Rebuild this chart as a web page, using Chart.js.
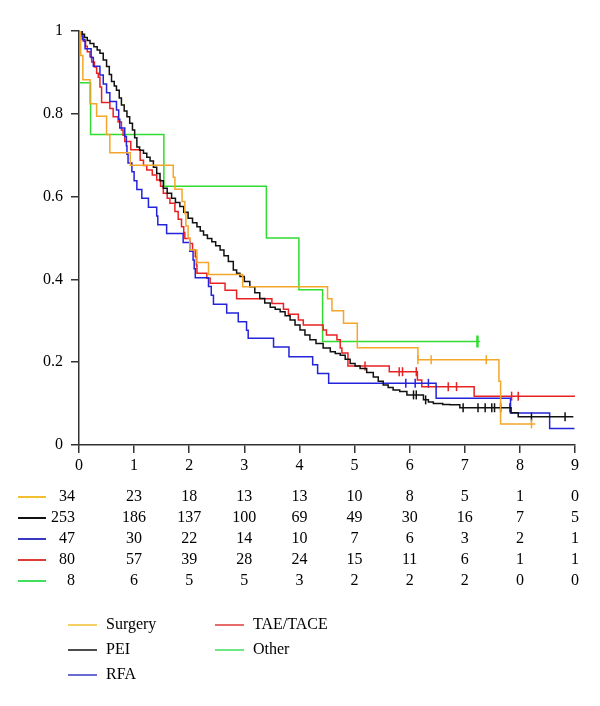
<!DOCTYPE html>
<html>
<head>
<meta charset="utf-8">
<script src="https://cdn.jsdelivr.net/npm/chart.js@4.4.1/dist/chart.umd.min.js"></script>
<style>
  html, body { margin: 0; padding: 0; background: #fff; }
  #wrap { position: relative; width: 600px; height: 706px; }
</style>
</head>
<body>
<div id="wrap"><canvas id="km"></canvas></div>
<script>
// Kaplan-Meier curves as [years, survival] step points
var groups = ["Surgery", "PEI", "RFA", "TAE/TACE", "Other"];
var years = [0, 1, 2, 3, 4, 5, 6, 7, 8, 9];

var surgery = [[0,1],[0.03,0.941],[0.07,0.882],[0.20,0.824],[0.32,0.794],[0.50,0.750],[0.56,0.706],[0.93,0.676],
  [1.71,0.647],[1.74,0.618],[1.87,0.588],[1.92,0.559],[1.94,0.529],[1.98,0.500],[2.01,0.471],[2.14,0.441],
  [2.35,0.412],[2.97,0.382],[4.51,0.353],[4.59,0.324],[4.80,0.294],[5.05,0.235],[6.15,0.206],[7.62,0.154],
  [7.65,0.051],[8.28,0.051]];

var pei = [[0,1],[0.05,0.992],[0.10,0.984],[0.15,0.977],[0.20,0.970],[0.27,0.962],[0.33,0.954],[0.38,0.946],
  [0.44,0.930],[0.50,0.914],[0.55,0.895],[0.59,0.878],[0.64,0.867],[0.68,0.857],[0.73,0.838],[0.77,0.821],
  [0.82,0.807],[0.87,0.793],[0.92,0.777],[0.97,0.761],[1.01,0.742],[1.05,0.720],[1.10,0.712],[1.17,0.705],
  [1.23,0.695],[1.29,0.686],[1.35,0.671],[1.41,0.656],[1.47,0.638],[1.53,0.620],[1.60,0.608],[1.68,0.596],
  [1.75,0.586],[1.83,0.576],[1.90,0.562],[1.98,0.548],[2.06,0.537],[2.14,0.527],[2.20,0.517],[2.26,0.507],
  [2.33,0.499],[2.41,0.491],[2.48,0.481],[2.56,0.471],[2.63,0.457],[2.71,0.443],[2.80,0.423],[2.86,0.415],
  [2.92,0.407],[3.00,0.395],[3.10,0.382],[3.19,0.368],[3.28,0.354],[3.37,0.343],[3.47,0.333],[3.56,0.328],
  [3.65,0.322],[3.74,0.312],[3.83,0.302],[3.92,0.290],[4.01,0.278],[4.10,0.266],[4.19,0.254],[4.30,0.245],
  [4.43,0.234],[4.56,0.225],[4.65,0.221],[4.74,0.217],[4.83,0.207],[4.92,0.197],[5.01,0.191],[5.10,0.185],
  [5.22,0.175],[5.34,0.164],[5.43,0.154],[5.52,0.145],[5.61,0.139],[5.70,0.133],[5.82,0.129],[5.95,0.121],
  [6.25,0.109],[6.34,0.104],[6.43,0.100],[6.60,0.098],[6.73,0.097],[6.91,0.090],[7.84,0.078],[7.97,0.068],
  [8.97,0.068]];

var rfa = [[0,1],[0.06,0.979],[0.11,0.957],[0.22,0.936],[0.26,0.915],[0.38,0.894],[0.44,0.872],[0.50,0.851],
  [0.56,0.830],[0.68,0.809],[0.72,0.787],[0.74,0.766],[0.83,0.745],[0.86,0.723],[0.87,0.702],[0.89,0.681],
  [0.96,0.660],[1.00,0.638],[1.05,0.617],[1.14,0.596],[1.26,0.574],[1.41,0.553],[1.43,0.532],[1.59,0.511],
  [1.89,0.489],[2.01,0.468],[2.07,0.447],[2.09,0.426],[2.11,0.404],[2.35,0.383],[2.40,0.362],[2.44,0.340],
  [2.68,0.319],[2.89,0.298],[3.04,0.277],[3.07,0.258],[3.53,0.237],[3.81,0.213],[4.24,0.194],[4.33,0.173],
  [4.53,0.149],[6.48,0.113],[7.83,0.077],[8.54,0.040],[8.99,0.040]];

var tace = [[0,1],[0.04,0.988],[0.08,0.975],[0.12,0.963],[0.15,0.950],[0.20,0.938],[0.23,0.925],[0.28,0.913],
  [0.32,0.898],[0.35,0.888],[0.38,0.865],[0.41,0.827],[0.56,0.813],[0.62,0.793],[0.71,0.780],[0.77,0.761],
  [0.80,0.748],[0.83,0.733],[0.94,0.713],[1.11,0.688],[1.17,0.675],[1.23,0.664],[1.33,0.652],[1.41,0.640],
  [1.48,0.625],[1.53,0.608],[1.60,0.596],[1.65,0.584],[1.74,0.564],[1.80,0.545],[1.86,0.527],[1.90,0.513],
  [1.92,0.499],[2.01,0.487],[2.06,0.471],[2.11,0.455],[2.13,0.435],[2.14,0.415],[2.32,0.403],[2.38,0.391],
  [2.65,0.374],[2.86,0.353],[3.50,0.342],[3.71,0.328],[3.80,0.316],[3.98,0.302],[4.07,0.290],[4.43,0.278],
  [4.49,0.266],[4.68,0.254],[4.74,0.234],[4.77,0.222],[4.88,0.191],[5.63,0.177],[6.14,0.157],[6.22,0.141],
  [7.17,0.118],[9.00,0.118]];

var other = [[0,1],[0,0.875],[0.21,0.75],[1.54,0.625],[3.40,0.5],[3.99,0.375],[4.42,0.25],[7.28,0.25]];

// censored observations (tick marks)
var surgeryCens = [[6.15,0.206],[6.39,0.206],[7.39,0.206],[8.21,0.051]];
var peiCens = [[6.07,0.121],[6.12,0.121],[6.29,0.109],[6.97,0.090],[7.24,0.090],[7.37,0.090],[7.49,0.090],
  [7.54,0.090],[7.65,0.090],[7.82,0.090],[8.21,0.068],[8.82,0.068]];
var rfaCens = [[5.93,0.149],[6.10,0.149],[6.34,0.149]];
var taceCens = [[5.19,0.191],[5.81,0.177],[5.87,0.177],[6.12,0.177],[6.70,0.141],[6.85,0.141],[7.85,0.118],[7.97,0.118]];
var otherCens = [[7.23,0.25]];

// number at risk
var surgeryRisk = [34, 23, 18, 13, 13, 10, 8, 5, 1, 0];
var peiRisk = [253, 186, 137, 100, 69, 49, 30, 16, 7, 5];
var rfaRisk = [47, 30, 22, 14, 10, 7, 6, 3, 2, 1];
var taceRisk = [80, 57, 39, 28, 24, 15, 11, 6, 1, 1];
var otherRisk = [8, 6, 5, 5, 3, 2, 2, 2, 0, 0];

var lineColors = ['#f3a629', '#111111', '#2323dc', '#e82222', '#2fdc2f'];
var keyColors = ['#f2c02e', '#111111', '#3838c4', '#e03a3a', '#3fe05a'];
var serif = '"Liberation Serif", "DejaVu Serif", serif';

function xy(pairs) {
  return pairs.map(function (p) { return { x: p[0], y: p[1] }; });
}

var curves = [surgery, pei, rfa, tace, other];
var censors = [surgeryCens, peiCens, rfaCens, taceCens, otherCens];
var risks = [surgeryRisk, peiRisk, rfaRisk, taceRisk, otherRisk];

var datasets = [];
curves.forEach(function (c, i) {
  datasets.push({
    label: groups[i],
    data: xy(c),
    borderColor: lineColors[i],
    borderWidth: 1.5,
    stepped: true,
    pointRadius: 0,
    fill: false
  });
});
censors.forEach(function (c, i) {
  datasets.push({
    label: groups[i] + ' censored',
    data: xy(c),
    showLine: false,
    pointStyle: 'line',
    rotation: 90,
    pointRadius: i === 4 ? 6 : 4.5,
    pointBorderWidth: i === 4 ? 2.5 : 1.5,
    pointBorderColor: lineColors[i],
    borderColor: lineColors[i]
  });
});

// risk table and legend under the plot
var tableAndKey = {
  id: 'tableAndKey',
  afterDraw: function (chart) {
    var ctx = chart.ctx;
    var xs = chart.scales.x;
    ctx.save();
    ctx.font = '16px ' + serif;
    ctx.textBaseline = 'middle';
    risks.forEach(function (row, i) {
      var y = 497 + i * 21;
      ctx.strokeStyle = keyColors[i];
      ctx.lineWidth = 2;
      ctx.beginPath();
      ctx.moveTo(18, y);
      ctx.lineTo(46, y);
      ctx.stroke();
      ctx.fillStyle = '#000';
      row.forEach(function (n, j) {
        var x = xs.getPixelForValue(years[j]);
        ctx.textAlign = j === 0 ? 'right' : 'center';
        ctx.fillText(String(n), j === 0 ? x - 4 : x, y);
      });
    });
    // legend, two columns
    ctx.textAlign = 'left';
    groups.forEach(function (g, i) {
      var col = i < 3 ? 0 : 1;
      var row = i < 3 ? i : i - 3;
      var lx = col === 0 ? 68 : 215;
      var y = 625 + row * 25;
      ctx.strokeStyle = keyColors[i];
      ctx.lineWidth = 1.5;
      ctx.beginPath();
      ctx.moveTo(lx, y);
      ctx.lineTo(lx + 29, y);
      ctx.stroke();
      ctx.fillStyle = '#000';
      ctx.fillText(g, lx + 38, y);
    });
    ctx.restore();
  }
};

var axisColor = '#333';
new Chart(document.getElementById('km'), {
  type: 'line',
  data: { datasets: datasets },
  plugins: [tableAndKey],
  options: {
    responsive: true,
    maintainAspectRatio: false,
    animation: false,
    layout: { padding: { left: 0, right: 25, top: 31, bottom: 231 } },
    plugins: { legend: { display: false }, tooltip: { enabled: false } },
    scales: {
      x: {
        type: 'linear',
        min: 0,
        max: 9,
        afterFit: function (s) { s.height = 30; },
        ticks: { stepSize: 1, color: '#000', font: { family: serif, size: 16 }, padding: 3 },
        grid: { drawOnChartArea: false, tickLength: 8, color: axisColor, lineWidth: 1.5 },
        border: { color: axisColor, width: 1.5 }
      },
      y: {
        min: 0,
        max: 1,
        afterFit: function (s) { s.width = 79; },
        ticks: {
          stepSize: 0.2, color: '#000', font: { family: serif, size: 16 }, padding: 8,
          callback: function (v) { return String(Number(v.toFixed(1))); }
        },
        grid: { drawOnChartArea: false, tickLength: 8, color: axisColor, lineWidth: 1.5 },
        border: { color: axisColor, width: 1.5 }
      }
    }
  }
});
</script>
</body>
</html>
